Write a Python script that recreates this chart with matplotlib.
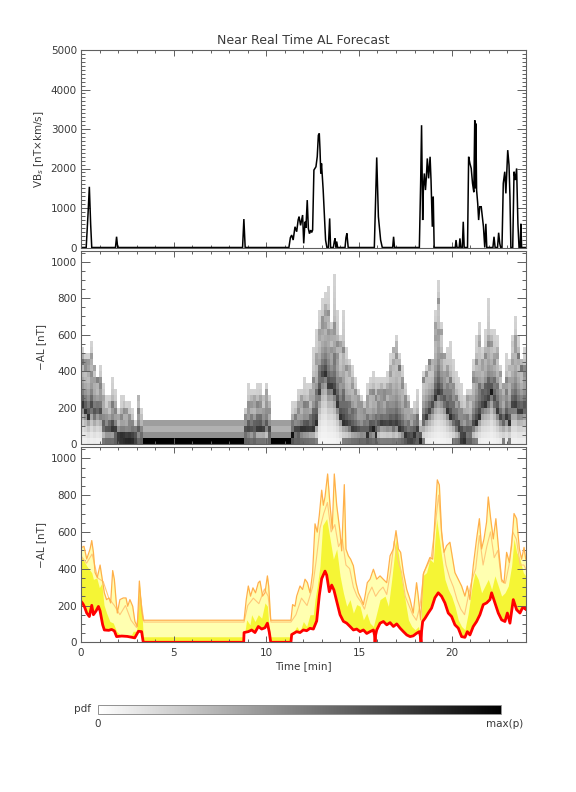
import numpy as np
import matplotlib
matplotlib.use('Agg')
import matplotlib.pyplot as plt
from matplotlib.ticker import MultipleLocator

# ---------------- data ----------------
# Top panel: VBs [nT x km/s]
vbs_t = [0.0, 0.28, 0.38, 0.45, 0.52, 0.58,
         1.86, 1.92, 1.98,
         8.72, 8.79, 8.86,
         11.22, 11.3, 11.37, 11.45, 11.55, 11.64, 11.72, 11.77, 11.85, 11.96, 12.02, 12.09,
         12.14, 12.21, 12.27, 12.33, 12.4, 12.45, 12.5, 12.57, 12.68, 12.75, 12.81, 12.86,
         12.9, 12.94, 12.98, 13.07, 13.14, 13.2, 13.27, 13.35, 13.42, 13.47, 13.62, 13.67,
         13.71, 13.76, 13.8, 13.85, 14.25, 14.3, 14.35, 14.42,
         15.83, 15.96, 16.05, 16.1, 16.17, 16.26,
         16.82, 16.87, 16.92,
         18.26, 18.33, 18.38, 18.44, 18.48, 18.53, 18.59, 18.64, 18.69, 18.76, 18.84, 18.89,
         18.96, 19.01, 19.06,
         20.2, 20.24, 20.29, 20.41, 20.45, 20.5, 20.58, 20.63, 20.68, 20.86, 20.92, 20.99,
         21.06, 21.13, 21.2, 21.25, 21.28, 21.31, 21.35, 21.41, 21.46, 21.52, 21.6, 21.66,
         21.72, 21.79, 21.85, 21.9, 22.23, 22.29, 22.35, 22.48, 22.54, 22.6, 22.65, 22.72,
         22.79, 22.87, 22.93, 23.03, 23.1, 23.15, 23.2, 23.3, 23.37, 23.44, 23.51, 23.58,
         23.64, 23.7, 23.74, 23.78, 24.0]
vbs_v = [0, 0, 850, 1537, 600, 0,
         0, 273, 0,
         0, 720, 0,
         0, 250, 315, 189, 525, 400, 700, 780, 560, 822, 105, 652,
         500, 1200, 483, 350, 440, 380, 442, 1960, 2044, 2300, 2843, 2886,
         2465, 1875, 2128, 1454, 780, 189, 0, 0, 736, 0, 0, 150,
         230, 0, 150, 0, 0, 250, 358, 0,
         0, 2280, 780, 525, 189, 0,
         0, 272, 0,
         0, 1624, 3096, 695, 1540, 1875, 1454, 1791, 2255, 1750, 2297, 1707,
         525, 1286, 0,
         0, 189, 0, 0, 230, 0, 0, 652, 0, 0, 2297, 2128,
         2002, 1624, 1400, 3222, 1500, 3138, 1454, 1117, 695, 1032, 1032, 780,
         525, 0, 600, 0, 0, 272, 0, 0, 374, 100, 0, 0,
         1624, 1918, 1370, 2465, 2086, 1286, 0, 0, 1918, 1707, 2002, 600,
         0, 0, 600, 0, 0]

# Bottom panel: forecast bands of -AL [nT]
red_t = [0.0, 0.1, 0.2, 0.31, 0.45, 0.58, 0.67, 0.81, 0.94, 1.03, 1.17, 1.26, 1.5, 1.65,
         1.8, 1.92, 2.2, 2.5, 2.9, 3.1, 3.27, 3.36, 8.78, 8.8, 9.03, 9.21, 9.39, 9.57,
         9.75, 9.93, 10.06, 10.16, 10.24, 11.33, 11.37, 11.64, 11.82, 12.0, 12.18, 12.36,
         12.54, 12.72, 12.86, 12.99, 13.17, 13.26, 13.4, 13.53, 13.65, 13.8, 13.98, 14.16,
         14.34, 14.52, 14.7, 14.88, 15.06, 15.24, 15.42, 15.6, 15.78, 15.84, 15.87, 15.9,
         15.96, 16.14, 16.32, 16.5, 16.68, 16.86, 17.04, 17.22, 17.4, 17.58, 17.76, 17.93,
         18.11, 18.26, 18.32, 18.35, 18.38, 18.44, 18.57, 18.74, 18.92, 19.1, 19.28, 19.46,
         19.64, 19.82, 20.0, 20.18, 20.36, 20.54, 20.72, 20.85, 20.99, 21.17, 21.35, 21.53,
         21.71, 21.89, 22.07, 22.16, 22.34, 22.52, 22.7, 22.88, 23.01, 23.15, 23.33, 23.51,
         23.69, 23.82, 23.96, 24.0]
red_v = [223, 210, 190, 159, 140, 201, 150, 170, 195, 170, 95, 67, 65, 70,
         62, 31, 34, 32, 24, 60, 58, 0, 0, 53, 58, 67, 53, 86,
         72, 79, 104, 56, 0, 0, 42, 58, 53, 67, 63, 76,
         72, 116, 254, 346, 387, 365, 275, 311, 284, 223, 150, 114,
         104, 86, 67, 72, 58, 67, 48, 58, 67, 40, 0, 40,
         67, 104, 113, 95, 107, 86, 100, 77, 58, 40, 31, 35,
         49, 58, 30, 0, 60, 113, 131, 159, 186, 242, 269, 250,
         214, 159, 140, 95, 77, 31, 27, 58, 40, 86, 113, 150,
         205, 214, 232, 269, 214, 159, 122, 113, 159, 104, 232, 177,
         159, 186, 186, 180]

mid_t = [0.0, 0.05, 0.31, 0.58, 0.67, 0.85, 0.99, 1.12, 1.24, 1.38, 1.56, 1.74, 1.92, 2.1,
         2.46, 2.73, 2.82, 3.0, 3.15, 3.27, 3.36, 8.8, 8.85, 8.94, 9.12, 9.21, 9.39, 9.57,
         9.75, 9.93, 10.06, 10.16, 10.24, 11.33, 11.4, 11.55, 11.64, 11.82, 12.0, 12.18,
         12.36, 12.54, 12.63, 12.75, 12.9, 13.04, 13.26, 13.44, 13.62, 13.8, 13.98, 14.16,
         14.34, 14.52, 14.7, 14.88, 15.06, 15.24, 15.42, 15.6, 15.78, 15.96, 16.14, 16.41,
         16.59, 16.77, 16.95, 17.0, 17.13, 17.31, 17.49, 17.67, 17.85, 18.03, 18.21, 18.33,
         18.44, 18.65, 18.83, 19.01, 19.19, 19.34, 19.46, 19.64, 19.82, 20.0, 20.18, 20.36,
         20.54, 20.72, 20.9, 21.08, 21.26, 21.44, 21.62, 21.8, 21.98, 22.16, 22.34, 22.52,
         22.7, 22.88, 23.06, 23.24, 23.37, 23.51, 23.69, 23.87, 24.0]
mid_v = [461, 461, 415, 378, 342, 350, 297, 320, 203, 159, 113, 105, 60, 42,
         33, 42, 60, 60, 315, 200, 30, 30, 60, 122, 95, 150, 113, 150,
         131, 214, 196, 68, 30, 30, 49, 68, 86, 58, 113, 86,
         150, 150, 233, 306, 416, 636, 672, 562, 452, 507, 361, 269,
         196, 232, 159, 205, 196, 122, 159, 104, 86, 159, 232, 251,
         196, 342, 507, 560, 480, 342, 232, 122, 86, 68, 86, 31,
         361, 379, 452, 434, 672, 562, 470, 342, 287, 251, 196, 122,
         86, 68, 159, 287, 379, 342, 269, 306, 342, 287, 361, 306,
         251, 269, 306, 416, 562, 489, 452, 379, 361]

up_t = [0.0, 0.05, 0.16, 0.31, 0.49, 0.58, 0.67, 0.76, 0.88, 1.03, 1.15, 1.26, 1.38, 1.51,
        1.6, 1.71, 1.8, 1.89, 1.96, 2.1, 2.28, 2.43, 2.52, 2.64, 2.79, 2.91, 3.04, 3.15,
        3.27, 3.36, 8.8, 8.92, 9.03, 9.15, 9.28, 9.42, 9.57, 9.66, 9.8, 9.93, 10.06, 10.13,
        10.24, 11.33, 11.42, 11.55, 11.64, 11.82, 11.96, 12.09, 12.22, 12.36, 12.5, 12.63,
        12.75, 12.86, 12.99, 13.08, 13.17, 13.31, 13.44, 13.56, 13.67, 13.8, 13.98, 14.07,
        14.21, 14.3, 14.43, 14.55, 14.7, 14.84, 14.97, 15.1, 15.24, 15.33, 15.45, 15.6,
        15.78, 15.96, 16.14, 16.32, 16.5, 16.68, 16.86, 17.0, 17.13, 17.25, 17.4, 17.58,
        17.76, 17.93, 18.11, 18.2, 18.33, 18.47, 18.65, 18.83, 18.98, 19.1, 19.23, 19.34,
        19.46, 19.59, 19.73, 19.91, 20.06, 20.18, 20.36, 20.54, 20.72, 20.85, 20.99, 21.17,
        21.35, 21.5, 21.62, 21.75, 21.89, 21.98, 22.11, 22.25, 22.39, 22.52, 22.7, 22.83,
        22.97, 23.12, 23.24, 23.37, 23.51, 23.66, 23.78, 23.91, 24.0]
up_v = [516, 516, 522, 453, 507, 553, 489, 379, 352, 420, 343, 269, 232, 241,
        214, 390, 342, 232, 159, 232, 241, 241, 196, 232, 196, 113, 86, 333,
        177, 120, 120, 233, 306, 251, 296, 269, 324, 333, 251, 269, 361, 306,
        120, 120, 205, 196, 251, 306, 287, 343, 324, 269, 379, 644,
        599, 690, 827, 745, 791, 915, 745, 617, 915, 745, 599, 497,
        857, 507, 470, 452, 416, 324, 269, 241, 205, 251, 324, 343,
        397, 343, 361, 342, 324, 470, 507, 607, 507, 489, 379, 287,
        232, 159, 324, 251, 122, 370, 416, 461, 452, 672, 883, 855,
        599, 489, 525, 544, 452, 379, 342, 306, 251, 306, 232, 416,
        562, 672, 507, 562, 654, 790, 672, 562, 672, 525, 342, 324,
        489, 434, 525, 700, 672, 507, 452, 516, 452]

in_t = [0.0, 0.3, 0.6, 0.9, 1.2, 1.5, 1.8, 2.1, 2.4, 2.7, 3.0, 3.2, 3.4, 8.8,
        9.0, 9.3, 9.6, 9.9, 10.1, 10.25, 11.33, 11.6, 11.9, 12.2, 12.5, 12.7, 12.9, 13.1,
        13.3, 13.5, 13.7, 13.9, 14.1, 14.3, 14.5, 14.7, 14.9, 15.1, 15.3, 15.5, 15.7, 15.9,
        16.1, 16.3, 16.5, 16.7, 16.9, 17.1, 17.3, 17.5, 17.7, 17.9, 18.1, 18.3, 18.5, 18.7,
        18.9, 19.1, 19.3, 19.5, 19.7, 19.9, 20.1, 20.3, 20.5, 20.7, 20.9, 21.1, 21.3, 21.5,
        21.7, 21.9, 22.1, 22.3, 22.5, 22.7, 22.9, 23.1, 23.3, 23.5, 23.7, 23.9, 24.0]
in_v = [470, 430, 480, 350, 330, 240, 200, 150, 200, 120, 80, 250, 110, 110,
        200, 240, 210, 290, 250, 110, 110, 150, 240, 200, 300, 450, 620, 700,
        760, 600, 640, 520, 560, 420, 400, 300, 250, 220, 180, 260, 300, 250,
        280, 300, 260, 380, 550, 450, 380, 250, 200, 150, 120, 200, 380, 420,
        460, 620, 800, 550, 420, 350, 300, 230, 180, 150, 250, 340, 400, 580,
        420, 520, 600, 460, 500, 330, 320, 420, 600, 560, 420, 420, 400]

# ---------------- figure ----------------
plt.rcParams['font.family'] = ['DejaVu Sans']
fig = plt.figure(figsize=(5.76, 7.92), dpi=100)

W = 576.0
H = 792.0
def box(l, t, r, b):
    return [l / W, 1 - b / H, (r - l) / W, (b - t) / H]

ax1 = fig.add_axes(box(81, 50, 525.7, 247.5))
ax2 = fig.add_axes(box(81, 250.7, 525.7, 444.0))
ax3 = fig.add_axes(box(81, 447.3, 525.7, 642.3))

frame_c = '#606060'
text_c = '#3a3a3a'
for ax in (ax1, ax2, ax3):
    ax.set_xlim(0, 24)
    ax.xaxis.set_major_locator(MultipleLocator(5))
    ax.xaxis.set_minor_locator(MultipleLocator(1))
    for s in ax.spines.values():
        s.set_color(frame_c)
        s.set_linewidth(0.8)
    ax.tick_params(which='both', direction='in', top=True, right=True,
                   color=frame_c, labelcolor=text_c, labelsize=7.5, width=0.7)
    ax.tick_params(axis='x', which='major', length=4.5)
    ax.tick_params(axis='x', which='minor', length=2.2)
    ax.tick_params(axis='y', which='major', length=6.5, pad=3)
    ax.tick_params(axis='y', which='minor', length=3)

# ---- top panel ----
ax1.plot(vbs_t, vbs_v, color='black', lw=1.1, solid_joinstyle='miter')
ax1.set_ylim(0, 5000)
ax1.yaxis.set_major_locator(MultipleLocator(1000))
ax1.yaxis.set_minor_locator(MultipleLocator(100))
ax1.tick_params(axis='x', labelbottom=False)
ax1.set_ylabel('VB$_s$ [nT\u00d7km/s]', fontsize=7.5, color=text_c)
ax1.yaxis.set_label_coords(-0.078, 0.5)
ax1.set_title('Near Real Time AL Forecast', fontsize=9, color=text_c, pad=4)

# ---- middle panel: pdf image built from the band arrays ----
tb = np.linspace(0, 24, 151)
yb = np.linspace(0, 1000, 31)
tc = 0.5 * (tb[:-1] + tb[1:])
yc = 0.5 * (yb[:-1] + yb[1:])
lo = np.interp(tc, red_t, red_v)
md = np.interp(tc, mid_t, mid_v)
hi = np.interp(tc, up_t, up_v)
u1 = np.interp(tc, in_t, in_v)
Y = yc[:, None]
rng_ = np.maximum(hi - lo, 40)
f = np.clip((Y - lo) / rng_, 0, 1)
inside = (Y >= lo) & (Y <= hi + 17)
d = np.where(inside, 0.12 + 0.7 * np.exp(-2.6 * f), 0.0)
d = d + np.where(Y < lo, 0.6 * np.exp(-(lo - Y) / (0.3 * lo + 20)), 0.0)
d = d + np.where((Y < 33.4) & (lo < 130), 0.4, 0.0)
d = d + np.where(Y <= hi, 0.22 * np.exp(-((Y - u1) / 25.0) ** 2), 0.0)
d = d + np.where(Y <= hi, 0.15 * np.exp(-((Y - md) / 25.0) ** 2), 0.0)
d = np.clip(d, 0, 1)
mesh = ax2.pcolormesh(tb, yb, d, cmap='gray_r', vmin=0, vmax=1, shading='flat')
ax2.set_ylim(0, 1060)
ax2.yaxis.set_major_locator(MultipleLocator(200))
ax2.yaxis.set_minor_locator(MultipleLocator(50))
ax2.tick_params(axis='x', labelbottom=False)
ax2.set_ylabel('\u2212AL [nT]', fontsize=7.5, color=text_c)
ax2.yaxis.set_label_coords(-0.078, 0.5)

# ---- bottom panel ----
ax3.fill_between(up_t, 0, up_v, color='#ffffb0', lw=0)
ax3.fill_between(mid_t, 0, mid_v, color='#f5f535', lw=0)
ax3.fill_between(red_t, 0, red_v, color='white', lw=0)
ax3.plot(in_t, in_v, color='#ffc878', lw=0.8)
ax3.plot(up_t, up_v, color='#ffb04a', lw=0.9)
ax3.plot(red_t, red_v, color='#ff0000', lw=2.0)
ax3.set_ylim(0, 1060)
ax3.yaxis.set_major_locator(MultipleLocator(200))
ax3.yaxis.set_minor_locator(MultipleLocator(50))
ax3.set_ylabel('\u2212AL [nT]', fontsize=7.5, color=text_c)
ax3.yaxis.set_label_coords(-0.078, 0.5)
ax3.set_xlabel('Time [min]', fontsize=7.5, color=text_c, labelpad=2)
ax3.tick_params(axis='x', pad=4)

# ---- colorbar ----
cax = fig.add_axes(box(98, 705, 501, 714))
cb = fig.colorbar(mesh, cax=cax, orientation='horizontal')
cb.set_ticks([])
cb.outline.set_edgecolor('#909090')
cb.outline.set_linewidth(0.7)
fig.text(91 / W, 1 - 709 / H, 'pdf', ha='right', va='center', fontsize=7.5, color=text_c)
fig.text(98 / W, 1 - 724 / H, '0', ha='center', va='center', fontsize=7.5, color=text_c)
fig.text(505 / W, 1 - 724 / H, 'max(p)', ha='center', va='center', fontsize=7.5, color=text_c)

fig.savefig('out.png', dpi=100)
